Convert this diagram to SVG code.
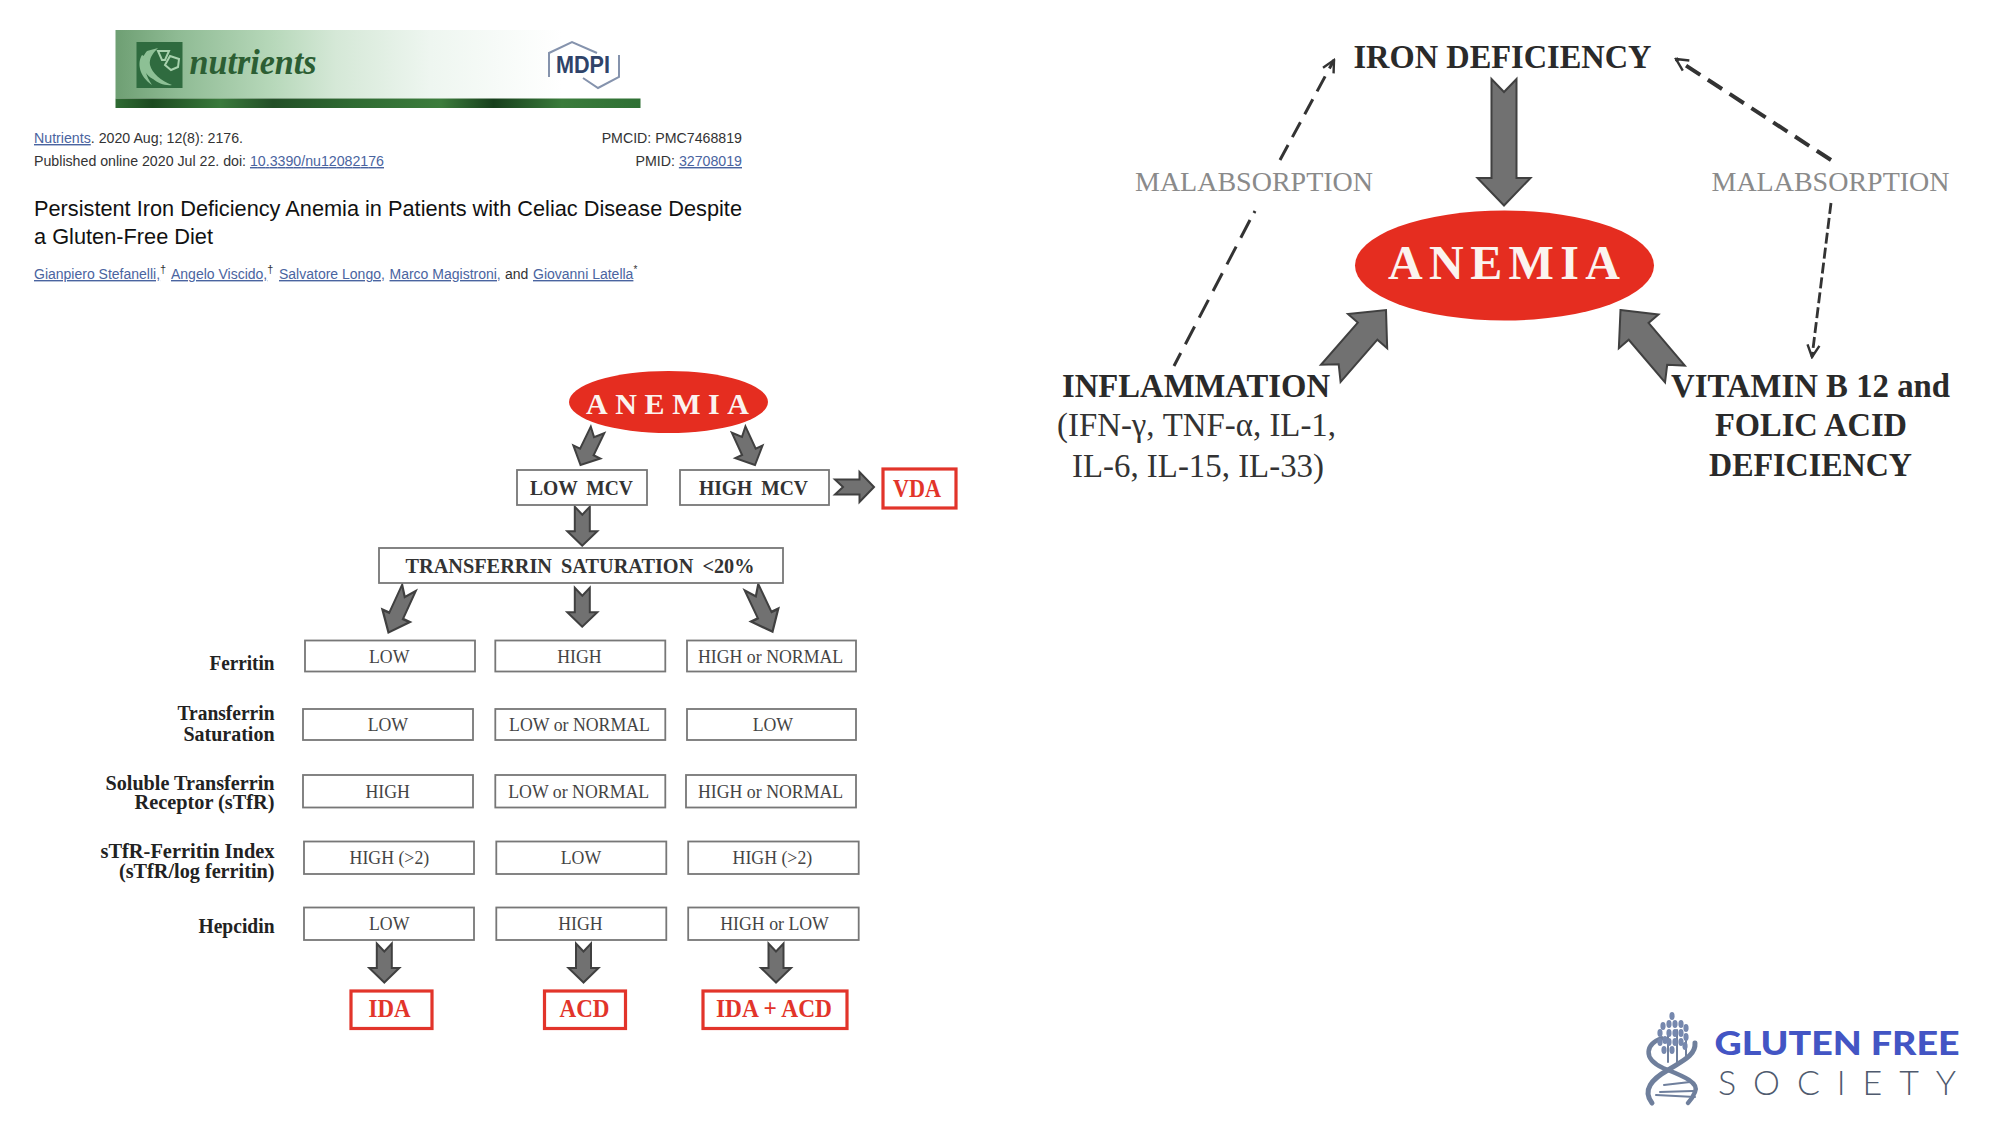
<svg xmlns="http://www.w3.org/2000/svg" xmlns:xlink="http://www.w3.org/1999/xlink" width="2000" height="1125" viewBox="0 0 2000 1125">
<style>
text{font-family:"Liberation Serif","Times New Roman",serif}
.s{font-family:"Liberation Sans",Arial,sans-serif;fill:#333;font-size:14.2px}
.lk{fill:#4a64a0;text-decoration:underline}
.box{fill:#fff;stroke:#777;stroke-width:1.8}
.red{fill:#fff;stroke:#e2342a;stroke-width:3.2}
.v{font-size:17.8px;fill:#444;text-anchor:middle}
.b{font-weight:bold;fill:#333;word-spacing:4px}
.lab{font-weight:bold;fill:#222;font-size:20px;text-anchor:end}
.rt{font-weight:bold;fill:#e2342a;font-size:25px}
.ell{fill:#e52d20}
.an{fill:#fbf3ef;font-weight:bold}
.big{font-size:34px;font-weight:bold;fill:#2a2a2a}
.reg{font-size:33px;fill:#333}
.mal{font-size:27px;fill:#8a8a8a}
.arr{fill:#717171;stroke:#404040;stroke-width:2;stroke-linejoin:miter;vector-effect:non-scaling-stroke}
.dash{fill:none;stroke:#333;marker-end:url(#open)}
.gr{fill:#7688ae}
.dna{fill:none;stroke:#6f7f9c;stroke-linecap:round}
</style>
<defs>
<linearGradient id="bn" x1="0" x2="1" y1="0" y2="0">
<stop offset="0" stop-color="#6e9f73"/><stop offset=".12" stop-color="#8fbb94"/><stop offset=".3" stop-color="#b7d8ba"/><stop offset=".42" stop-color="#d5e8d7"/><stop offset=".6" stop-color="#eef6f0"/><stop offset=".85" stop-color="#fff"/>
</linearGradient>
<linearGradient id="bar" x1="0" x2="1" y1="0" y2="0">
<stop offset="0" stop-color="#2f6b33"/><stop offset=".07" stop-color="#1c4a20"/><stop offset=".2" stop-color="#3a7a3c"/><stop offset=".3" stop-color="#234f27"/><stop offset=".45" stop-color="#2f6a32"/><stop offset=".62" stop-color="#3c7c3c"/><stop offset=".72" stop-color="#173f1c"/><stop offset=".85" stop-color="#3a7b3b"/><stop offset="1" stop-color="#2f7034"/>
</linearGradient>
<path id="sa" d="M0,0L-15,-14.5L-7.500,-14.5L-7.500,-39L0,-31L7.500,-39L7.500,-14.5L15,-14.5Z"/>
<path id="ba" d="M0,0L-26,-28L-13,-28L-13,-84L0,-72L13,-84L13,-28L26,-28Z"/>
<marker id="open" markerUnits="userSpaceOnUse" viewBox="-14 -10 16 20" markerWidth="16" markerHeight="20" refX="0" refY="0" orient="auto"><path d="M-12,-6L0,0L-12,6" fill="none" stroke="#333" stroke-width="2.4"/></marker>
<ellipse id="g" class="gr" rx="2.6" ry="4"/>
</defs>
<rect width="2000" height="1125" fill="#fff"/>

<g id="journal-banner">
<rect x="115.500" y="30" width="525" height="68.500" fill="url(#bn)"/>
<rect x="115.500" y="98.500" width="525" height="9.500" fill="url(#bar)"/>
<rect x="136.500" y="42" width="46" height="46" fill="#2f6b3f"/>
<path d="M147,51C139,60 141,72 153,79C158,83 165,86 172,85C161,81 152,73 150,65C149,59 152,54 158,48Z" fill="#8dc095"/>
<path d="M142,55C137,63 139,76 152,85C146,76 143,67 146,57Z" fill="#8dc095"/>
<path d="M158,51L169,51L165,60L162,60Z" fill="none" stroke="#a9d2ae" stroke-width="2"/>
<path d="M170,56L179,59L178,67L171,70L165,65Z" fill="none" stroke="#a9d2ae" stroke-width="2"/>
<text x="189.500" y="74" font-size="35" font-weight="bold" font-style="italic" fill="#2c5e33" textLength="127" lengthAdjust="spacingAndGlyphs">nutrients</text>
<path d="M549,77L549,53L572,42L597,53" fill="none" stroke="#8593ad" stroke-width="2"/>
<path d="M619,55L619,77L598,88L583,78" fill="none" stroke="#8593ad" stroke-width="2"/>
<text x="556" y="73" textLength="54" lengthAdjust="spacingAndGlyphs" font-size="23" font-weight="bold" fill="#2f4369" style="font-family:'Liberation Sans',Arial,sans-serif">MDPI</text>
</g>

<g id="citation">
<text class="s" x="34" y="143"><tspan class="lk">Nutrients</tspan>. 2020 Aug; 12(8): 2176.</text>
<text class="s" x="34" y="166" textLength="350">Published online 2020 Jul 22. doi: <tspan class="lk">10.3390/nu12082176</tspan></text>
<text class="s" x="742" y="143" text-anchor="end">PMCID: PMC7468819</text>
<text class="s" x="742" y="166" text-anchor="end">PMID: <tspan class="lk">32708019</tspan></text>
<text class="s" x="34" y="216" style="font-size:21.5px;fill:#111" textLength="708" lengthAdjust="spacingAndGlyphs">Persistent Iron Deficiency Anemia in Patients with Celiac Disease Despite</text>
<text class="s" x="34" y="244" style="font-size:21.5px;fill:#111" textLength="179" lengthAdjust="spacingAndGlyphs">a Gluten-Free Diet</text>
<text class="s" x="34" y="279" style="font-size:14px"><tspan class="lk">Gianpiero Stefanelli,</tspan><tspan dy="-6" font-size="11">†</tspan><tspan class="lk" x="171" dy="6">Angelo Viscido,</tspan><tspan dy="-6" font-size="11">†</tspan><tspan class="lk" x="279" dy="6">Salvatore Longo,</tspan><tspan class="lk" x="389.500">Marco Magistroni,</tspan><tspan x="505">and</tspan><tspan class="lk" x="533">Giovanni Latella</tspan><tspan dy="-6" font-size="10">*</tspan></text>
</g>

<g id="connectors">
<use xlink:href="#sa" href="#sa" class="arr" transform="translate(580.5,465) rotate(25.9)"/>
<use xlink:href="#sa" href="#sa" class="arr" transform="translate(755,465) rotate(-24.8)"/>
<use xlink:href="#sa" href="#sa" class="arr" transform="translate(874,487) rotate(-90)"/>
<use xlink:href="#sa" href="#sa" class="arr" transform="translate(582.3,545.7)"/>
<use xlink:href="#sa" href="#sa" class="arr" transform="translate(388.5,632.5) rotate(24.6) scale(1,1.26)"/>
<use xlink:href="#sa" href="#sa" class="arr" transform="translate(582.3,626.7)"/>
<use xlink:href="#sa" href="#sa" class="arr" transform="translate(772.5,631.7) rotate(-25.3) scale(1,1.26)"/>
<use xlink:href="#sa" href="#sa" class="arr" transform="translate(384.3,982.500)"/>
<use xlink:href="#sa" href="#sa" class="arr" transform="translate(583.500,982.500)"/>
<use xlink:href="#sa" href="#sa" class="arr" transform="translate(776,982.500)"/>
<path class="arr" d="M1504,205.5L1477.5,178L1491.500,178L1491.500,79L1504,92L1516.500,79L1516.500,178L1530.500,178Z"/>
<use xlink:href="#ba" href="#ba" class="arr" transform="translate(1386,310) rotate(-138.9)"/>
<use xlink:href="#ba" href="#ba" class="arr" transform="translate(1620.500,310) rotate(139.6)"/>
<path class="dash" d="M1280,160L1334,60" stroke-width="3" stroke-dasharray="17 9"/>
<path d="M1255,211L1254,213M1250,220L1174,366" fill="none" stroke="#333" stroke-width="3" stroke-dasharray="20 10"/>
<path class="dash" d="M1831,160L1676,59" stroke-width="4" stroke-dasharray="17 9"/>
<path class="dash" d="M1831,203L1812,357" stroke-width="2.800" stroke-dasharray="11 4"/>
</g>

<g id="flow-anemia"><ellipse class="ell" cx="668.5" cy="402" rx="99.5" ry="31"/><text class="an" x="586" y="414" font-size="30" textLength="163">ANEMIA</text></g>
<g id="low-mcv"><rect class="box" x="517" y="470" width="130" height="35"/><text class="b" x="530" y="495" font-size="20" textLength="103" lengthAdjust="spacingAndGlyphs">LOW MCV</text></g>
<g id="high-mcv"><rect class="box" x="680" y="470" width="149" height="35"/><text class="b" x="699" y="495" font-size="20" textLength="109" lengthAdjust="spacingAndGlyphs">HIGH MCV</text></g>
<g id="vda"><rect class="red" x="883" y="469" width="73" height="39"/><text class="rt" x="893" y="497" textLength="48" lengthAdjust="spacingAndGlyphs">VDA</text></g>
<g id="tsat"><rect class="box" x="379" y="548" width="404" height="35"/><text class="b" x="405.500" y="573" font-size="20" textLength="349" lengthAdjust="spacingAndGlyphs">TRANSFERRIN SATURATION &lt;20%</text></g>

<g id="row-ferritin">
<text class="lab" x="274.500" y="669.500" textLength="65" lengthAdjust="spacingAndGlyphs">Ferritin</text>
<rect class="box" x="305" y="640.500" width="170" height="31"/><text class="v" x="389.200" y="662.500">LOW</text>
<rect class="box" x="495.300" y="640.500" width="170" height="31"/><text class="v" x="579.500" y="662.500">HIGH</text>
<rect class="box" x="687" y="640.500" width="169" height="31"/><text class="v" x="770.600" y="662.500">HIGH or NORMAL</text>
</g>
<g id="row-tsat">
<text class="lab" x="274.500" y="720" textLength="97" lengthAdjust="spacingAndGlyphs">Transferrin</text><text class="lab" x="274.500" y="740.500" textLength="91" lengthAdjust="spacingAndGlyphs">Saturation</text>
<rect class="box" x="303" y="709" width="170" height="31"/><text class="v" x="387.900" y="731">LOW</text>
<rect class="box" x="495.300" y="709" width="170" height="31"/><text class="v" x="579.500" y="731">LOW or NORMAL</text>
<rect class="box" x="687" y="709" width="169" height="31"/><text class="v" x="772.900" y="731">LOW</text>
</g>
<g id="row-stfr">
<text class="lab" x="274.500" y="789.500" textLength="169" lengthAdjust="spacingAndGlyphs">Soluble Transferrin</text><text class="lab" x="274.500" y="809" textLength="140" lengthAdjust="spacingAndGlyphs">Receptor (sTfR)</text>
<rect class="box" x="303" y="775" width="170" height="32.500"/><text class="v" x="387.700" y="797.500">HIGH</text>
<rect class="box" x="495.300" y="775" width="170" height="32.500"/><text class="v" x="578.700" y="797.500">LOW or NORMAL</text>
<rect class="box" x="686" y="775" width="170" height="32.500"/><text class="v" x="770.600" y="797.500">HIGH or NORMAL</text>
</g>
<g id="row-index">
<text class="lab" x="274.500" y="858" textLength="174" lengthAdjust="spacingAndGlyphs">sTfR-Ferritin Index</text><text class="lab" x="274.500" y="878" textLength="155.500" lengthAdjust="spacingAndGlyphs">(sTfR/log ferritin)</text>
<rect class="box" x="304" y="841.500" width="170" height="32.500"/><text class="v" x="389.400" y="864">HIGH (&gt;2)</text>
<rect class="box" x="496.300" y="841.500" width="170" height="32.500"/><text class="v" x="581" y="864">LOW</text>
<rect class="box" x="688.200" y="841.500" width="170.500" height="32.500"/><text class="v" x="772.400" y="864">HIGH (&gt;2)</text>
</g>
<g id="row-hepcidin">
<text class="lab" x="274.500" y="932.500" textLength="76" lengthAdjust="spacingAndGlyphs">Hepcidin</text>
<rect class="box" x="304" y="907.500" width="170" height="32.500"/><text class="v" x="389.200" y="930">LOW</text>
<rect class="box" x="496.300" y="907.500" width="170" height="32.500"/><text class="v" x="580.500" y="930">HIGH</text>
<rect class="box" x="688.200" y="907.500" width="170.500" height="32.500"/><text class="v" x="774.600" y="930">HIGH or LOW</text>
</g>
<g id="ida"><rect class="red" x="351" y="991" width="81" height="37.500"/><text class="rt" x="368.500" y="1017" textLength="42" lengthAdjust="spacingAndGlyphs">IDA</text></g>
<g id="acd"><rect class="red" x="544.500" y="991" width="81" height="37.500"/><text class="rt" x="559.500" y="1017" textLength="50" lengthAdjust="spacingAndGlyphs">ACD</text></g>
<g id="ida-acd"><rect class="red" x="703" y="991" width="144" height="37.500"/><text class="rt" x="716" y="1017" textLength="116" lengthAdjust="spacingAndGlyphs">IDA + ACD</text></g>

<g id="iron-deficiency"><text class="big" x="1353.500" y="68" textLength="298" lengthAdjust="spacingAndGlyphs">IRON DEFICIENCY</text></g>
<g id="anemia"><ellipse class="ell" cx="1504.500" cy="265.500" rx="149.500" ry="55"/><text class="an" x="1388" y="279" font-size="48" textLength="232">ANEMIA</text></g>
<g id="malabsorption-left"><text class="mal" x="1135" y="191" textLength="238" lengthAdjust="spacingAndGlyphs">MALABSORPTION</text></g>
<g id="malabsorption-right"><text class="mal" x="1711.500" y="191" textLength="238" lengthAdjust="spacingAndGlyphs">MALABSORPTION</text></g>
<g id="inflammation">
<text class="big" x="1062" y="397" textLength="268" lengthAdjust="spacingAndGlyphs">INFLAMMATION</text>
<text class="reg" x="1057" y="436" textLength="279" lengthAdjust="spacingAndGlyphs">(IFN-γ, TNF-α, IL-1,</text>
<text class="reg" x="1072" y="476.500" textLength="252" lengthAdjust="spacingAndGlyphs">IL-6, IL-15, IL-33)</text>
</g>
<g id="vitamin">
<text class="big" x="1671" y="397" textLength="279" lengthAdjust="spacingAndGlyphs">VITAMIN B 12 and</text>
<text class="big" x="1715" y="436" textLength="192" lengthAdjust="spacingAndGlyphs">FOLIC ACID</text>
<text class="big" x="1709" y="476" textLength="203" lengthAdjust="spacingAndGlyphs">DEFICIENCY</text>
</g>

<g id="gfs-logo">
<path class="dna" stroke-width="4.500" d="M1661.700,1038.300C1646,1044 1642,1058 1663,1068C1680,1075 1700,1082 1695,1092C1693,1097 1690,1101 1688,1103"/>
<path class="dna" stroke-width="5" d="M1695,1043C1696,1056 1680,1062 1668,1070C1652,1079 1642,1090 1652,1103"/>
<path class="dna" stroke-width="2" d="M1664,1085L1690,1082M1660,1092L1693,1091M1656,1095L1695,1097M1668,1035L1668,1062M1677,1030L1677,1066M1686,1038L1686,1058"/>
<use xlink:href="#g" href="#g" x="1672" y="1016"/><use xlink:href="#g" href="#g" x="1669" y="1024"/><use xlink:href="#g" href="#g" x="1675" y="1024"/><use xlink:href="#g" href="#g" x="1669" y="1033"/><use xlink:href="#g" href="#g" x="1675" y="1033"/><use xlink:href="#g" href="#g" x="1669" y="1042"/><use xlink:href="#g" href="#g" x="1675" y="1042"/><use xlink:href="#g" href="#g" x="1672" y="1050"/>
<use xlink:href="#g" href="#g" x="1663" y="1026"/><use xlink:href="#g" href="#g" x="1660" y="1033"/><use xlink:href="#g" href="#g" x="1665" y="1040"/><use xlink:href="#g" href="#g" x="1660" y="1042"/><use xlink:href="#g" href="#g" x="1664" y="1050"/>
<use xlink:href="#g" href="#g" x="1681" y="1024"/><use xlink:href="#g" href="#g" x="1686" y="1028"/><use xlink:href="#g" href="#g" x="1681" y="1033"/><use xlink:href="#g" href="#g" x="1686" y="1037"/><use xlink:href="#g" href="#g" x="1681" y="1042"/><use xlink:href="#g" href="#g" x="1685" y="1046"/>
</g>
<g id="gfs-text">
<text x="1714.500" y="1055" font-size="33" font-weight="900" fill="#4355c4" textLength="245" lengthAdjust="spacingAndGlyphs" style="font-family:Lato,'Liberation Sans',sans-serif">GLUTEN FREE</text>
<text x="1718" y="1095" font-size="34" font-weight="300" fill="#4f5a6e" textLength="238" style="font-family:Lato,'Liberation Sans',sans-serif">SOCIETY</text>
</g>
</svg>
